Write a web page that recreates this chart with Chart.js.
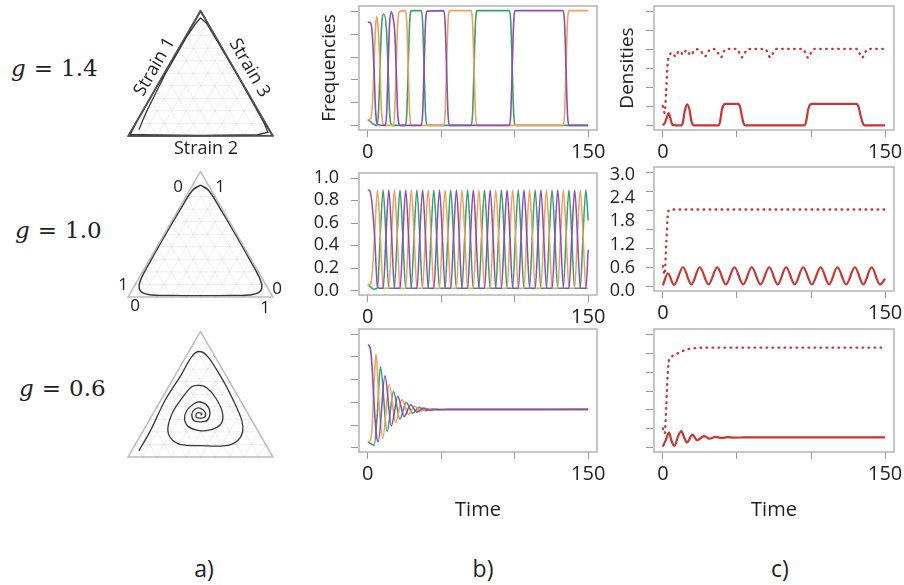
<!DOCTYPE html>
<html>
<head>
<meta charset="utf-8">
<script src="https://cdn.jsdelivr.net/npm/chart.js@4.4.1/dist/chart.umd.min.js"></script>
<style>
  html, body { margin: 0; padding: 0; background: #fff; }
  #fig { position: relative; width: 904px; height: 585px; overflow: hidden; font-family: 'Open Sans', sans-serif; color: #222; }
  canvas { position: absolute; }
  .txt { position: absolute; white-space: nowrap; transform: translate(-50%, -50%); }
  .g { font-family: 'DejaVu Serif', serif; font-size: 23px; transform: translate(0, -50%); }
  .g i { margin-right: 8px; }
  .g span { margin-right: 8px; }
</style>
</head>
<body>
<div id="fig">
  <canvas id="tern1"></canvas>
  <canvas id="tern2"></canvas>
  <canvas id="tern3"></canvas>
  <canvas id="b1"></canvas>
  <canvas id="b2"></canvas>
  <canvas id="b3"></canvas>
  <canvas id="c1"></canvas>
  <canvas id="c2"></canvas>
  <canvas id="c3"></canvas>

  <div class="txt g" style="left:11px;top:68px"><i>g</i><span>=</span>1.4</div>
  <div class="txt g" style="left:15px;top:230px"><i>g</i><span>=</span>1.0</div>
  <div class="txt g" style="left:19px;top:388px"><i>g</i><span>=</span>0.6</div>

  <div class="txt" style="left:153px;top:66px;font-size:18px;transform:translate(-50%,-50%) rotate(-60deg)">Strain 1</div>
  <div class="txt" style="left:251px;top:67px;font-size:18px;transform:translate(-50%,-50%) rotate(60deg)">Strain 3</div>
  <div class="txt" style="left:206px;top:147px;font-size:18px">Strain 2</div>

  <div class="txt" style="left:178px;top:185px;font-size:17px">0</div>
  <div class="txt" style="left:220px;top:185px;font-size:17px">1</div>
  <div class="txt" style="left:123px;top:283px;font-size:17px">1</div>
  <div class="txt" style="left:277px;top:287px;font-size:17px">0</div>
  <div class="txt" style="left:135px;top:304px;font-size:17px">0</div>
  <div class="txt" style="left:265px;top:306px;font-size:17px">1</div>

  <div class="txt" style="left:204px;top:568px;font-size:23px">a)</div>
  <div class="txt" style="left:483px;top:568px;font-size:23px">b)</div>
  <div class="txt" style="left:780px;top:568px;font-size:23px">c)</div>
</div>

<script>
// ---- axis ticks ----
const timeTicks = [0, 50, 100, 150];
const timeLabels = ['0', '', '', '150'];
const freqTicks = [0, 0.2, 0.4, 0.6, 0.8, 1.0];
const freqLabels = ['0.0', '0.2', '0.4', '0.6', '0.8', '1.0'];
const densTicks = [0, 0.5, 1, 1.5, 2, 2.5, 3];
const densLabelVals = [0, 0.6, 1.2, 1.8, 2.4, 3.0];
const densLabels = ['0.0', '0.6', '1.2', '1.8', '2.4', '3.0'];

// ---- g = 1.4 : frequencies [time, value] ----
const b1Purple = [[0,.9],[2,.89],[3,.8],[4.2,.5],[5.2,.15],[6,.03],[7,.005],[12,0],[12.8,.1],[13.8,.5],[14.8,.88],[16,.99],[17.3,.93],[18.3,.82],[19.3,.5],[20.3,.12],[21.3,.01],[22.3,0],[36.3,0],[37.3,.1],[38.3,.5],[39.3,.9],[40.5,.995],[51.6,1],[52.6,.9],[53.6,.5],[54.6,.1],[55.6,0],[96.3,0],[97.3,.1],[98.3,.5],[99.3,.9],[100.5,1],[132.9,1],[133.9,.9],[134.9,.5],[135.9,.1],[136.9,0],[150,0]];
const b1Orange = [[0,.05],[2,.06],[3.2,.2],[4.2,.5],[5.1,.82],[6.1,.95],[7.2,.82],[8.3,.5],[9.2,.15],[10.2,.02],[11,0],[17.3,0],[18.3,.12],[19.3,.5],[20.3,.88],[21.5,.99],[25.5,1],[26.5,.9],[27.5,.5],[28.5,.1],[29.5,0],[51.6,0],[52.6,.1],[53.6,.5],[54.6,.9],[55.8,1],[70.3,1],[71.3,.9],[72.3,.5],[73.3,.1],[74.3,0],[132.9,0],[133.9,.1],[134.9,.5],[135.9,.9],[137,1],[150,1]];
const b1Green = [[0,.05],[2,.03],[4,.01],[6.3,0],[7.3,.12],[8.3,.5],[9.3,.85],[10.9,.97],[12.6,.85],[13.8,.5],[14.8,.12],[15.8,.01],[16.8,0],[25.5,0],[26.5,.1],[27.5,.5],[28.5,.9],[29.7,1],[36.3,1],[37.3,.9],[38.3,.5],[39.3,.1],[40.3,0],[70.3,0],[71.3,.1],[72.3,.5],[73.3,.9],[74.5,1],[96.3,1],[97.3,.9],[98.3,.5],[99.3,.1],[100.3,0],[150,0]];

// ---- g = 1.4 : densities ----
const c1Solid = [[0,0],[1.5,.08],[3,.25],[3.9,.32],[5,.2],[6,.05],[7,.005],[12.5,0],[13.5,.08],[14.8,.38],[16.5,.55],[18,.4],[19.3,.1],[20.5,.01],[21.5,0],[37.5,0],[38.5,.08],[39.8,.4],[41.3,.55],[42.5,.565],[50.5,.565],[52,.5],[53.3,.25],[54.5,.05],[55.5,0],[95.5,0],[96.7,.1],[98,.4],[99.5,.55],[101,.565],[130.5,.565],[132,.5],[133.5,.25],[135,.05],[136.5,0],[150,0]];
const c1Dotted = [[0,.5],[1.2,.33],[2.2,.9],[3.2,1.6],[4.5,1.82],[6,1.9],[7,1.88],[8.4,1.8],[10,1.9],[11.3,1.95],[13.6,1.85],[15.9,1.97],[18.8,1.83],[21,1.95],[22.7,1.99],[25.5,1.95],[28.3,1.8],[31,1.95],[33,2],[36,1.97],[39.2,1.78],[41.5,1.95],[43,2],[50,2],[53.3,1.78],[56.5,1.97],[58,2],[69,2],[72.5,1.78],[75.5,1.97],[77,2],[94.5,2],[98,1.77],[101,1.97],[102.5,2],[131,2],[134.4,1.77],[137.5,1.97],[139,2],[150,2]];

// ---- g = 1.0 : frequencies ----
const b2Purple = [[0,.89],[1.2,.885],[2.6,.8],[4.6,.49],[6.6,.03],[8,.02],
  [10.45,.02],[12.4,.49],[14.3,.89],[16.2,.49],[18.15,.02],
  [21.95,.02],[23.9,.49],[25.8,.89],[27.7,.49],[29.65,.02],
  [33.45,.02],[35.4,.49],[37.3,.89],[39.2,.49],[41.15,.02],
  [44.95,.02],[46.9,.49],[48.8,.89],[50.7,.49],[52.65,.02],
  [56.45,.02],[58.4,.49],[60.3,.89],[62.2,.49],[64.15,.02],
  [67.95,.02],[69.9,.49],[71.8,.89],[73.7,.49],[75.65,.02],
  [79.45,.02],[81.4,.49],[83.3,.89],[85.2,.49],[87.15,.02],
  [90.95,.02],[92.9,.49],[94.8,.89],[96.7,.49],[98.65,.02],
  [102.45,.02],[104.4,.49],[106.3,.89],[108.2,.49],[110.15,.02],
  [113.95,.02],[115.9,.49],[117.8,.89],[119.7,.49],[121.65,.02],
  [125.45,.02],[127.4,.49],[129.3,.89],[131.2,.49],[133.15,.02],
  [136.95,.02],[138.9,.49],[140.8,.89],[142.7,.49],[144.65,.02],
  [148.45,.02],[150,.36]];
const b2Orange = [[0,.045],[2,.06],[3.3,.2],[4.6,.49],[6.6,.89],[8.5,.49],[10.45,.02],
  [14.25,.02],[16.2,.49],[18.1,.89],[20,.49],[21.95,.02],
  [25.75,.02],[27.7,.49],[29.6,.89],[31.5,.49],[33.45,.02],
  [37.25,.02],[39.2,.49],[41.1,.89],[43,.49],[44.95,.02],
  [48.75,.02],[50.7,.49],[52.6,.89],[54.5,.49],[56.45,.02],
  [60.25,.02],[62.2,.49],[64.1,.89],[66,.49],[67.95,.02],
  [71.75,.02],[73.7,.49],[75.6,.89],[77.5,.49],[79.45,.02],
  [83.25,.02],[85.2,.49],[87.1,.89],[89,.49],[90.95,.02],
  [94.75,.02],[96.7,.49],[98.6,.89],[100.5,.49],[102.45,.02],
  [106.25,.02],[108.2,.49],[110.1,.89],[112,.49],[113.95,.02],
  [117.75,.02],[119.7,.49],[121.6,.89],[123.5,.49],[125.45,.02],
  [129.25,.02],[131.2,.49],[133.1,.89],[135,.49],[136.95,.02],
  [140.75,.02],[142.7,.49],[144.6,.89],[146.5,.49],[148.45,.02],[150,.02]];
const b2Green = [[0,.05],[2,.03],[4,.012],[6.55,.02],[8.5,.49],[10.4,.89],[12.3,.49],[14.25,.02],
  [18.05,.02],[20,.49],[21.9,.89],[23.8,.49],[25.75,.02],
  [29.55,.02],[31.5,.49],[33.4,.89],[35.3,.49],[37.25,.02],
  [41.05,.02],[43,.49],[44.9,.89],[46.8,.49],[48.75,.02],
  [52.55,.02],[54.5,.49],[56.4,.89],[58.3,.49],[60.25,.02],
  [64.05,.02],[66,.49],[67.9,.89],[69.8,.49],[71.75,.02],
  [75.55,.02],[77.5,.49],[79.4,.89],[81.3,.49],[83.25,.02],
  [87.05,.02],[89,.49],[90.9,.89],[92.8,.49],[94.75,.02],
  [98.55,.02],[100.5,.49],[102.4,.89],[104.3,.49],[106.25,.02],
  [110.05,.02],[112,.49],[113.9,.89],[115.8,.49],[117.75,.02],
  [121.55,.02],[123.5,.49],[125.4,.89],[127.3,.49],[129.25,.02],
  [133.05,.02],[135,.49],[136.9,.89],[138.8,.49],[140.75,.02],
  [144.55,.02],[146.5,.49],[148.4,.89],[150,.62]];

// ---- g = 1.0 : densities ----
const c2Solid = [[0,.03],[3.4,.34],[7.5,.04],[13.6,.5],[19.2,.05],[24.9,.5],[30.8,.05],[36.7,.5],[42.5,.05],[48.3,.5],[54.2,.05],[60,.5],[65.9,.05],[71.8,.5],[77.5,.05],[83.2,.5],[89,.05],[94.7,.5],[100.6,.05],[106.5,.5],[112.2,.05],[117.8,.5],[123.7,.05],[129.6,.5],[135.3,.05],[140.9,.5],[146.5,.05],[150,.2]];
const c2Dotted = [[0,.53],[1.1,.31],[2.3,1.14],[3.4,1.89],[4.5,2],[6,2.01],[150,2.01]];

// ---- g = 0.6 : frequencies ----
const b3Purple = [[0,.9],[1.2,.89],[2.5,.78],[4,.45],[5.5,.15],[7.1,.05],[11.7,.63],[16,.19],[20.4,.45],[24.7,.27],[29.1,.375],[33.4,.31],[37.8,.346],[42.1,.326],[46.5,.336],[50.8,.331],[56,.334],[150,.334]];
const b3Orange = [[0,.05],[1.5,.06],[2.8,.15],[4.2,.55],[5.6,.82],[7.8,.35],[10.1,.08],[14.6,.55],[18.9,.22],[23.3,.42],[27.6,.29],[32,.362],[36.3,.318],[40.7,.341],[45,.329],[49.4,.335],[54,.333],[150,.334]];
const b3Green = [[0,.05],[2,.035],[4.3,.02],[6.5,.3],[8.6,.71],[13.1,.14],[17.5,.49],[21.8,.25],[26.2,.395],[30.5,.3],[34.9,.352],[39.2,.323],[43.6,.338],[48,.33],[52.3,.335],[57,.333],[150,.334]];

// ---- g = 0.6 : densities ----
const c3Solid = [[0,.02],[2,.2],[4.1,.39],[6,.15],[7.9,.04],[10.3,.3],[12.5,.43],[14.5,.25],[16.3,.13],[19.9,.34],[23.1,.19],[27.9,.3],[31.5,.23],[35.5,.28],[39.5,.25],[43.5,.27],[48,.26],[55,.265],[150,.265]];
const c3Dotted = [[0,.5],[1.2,.37],[2.3,1.1],[3.2,1.9],[4.1,2.3],[5,2.36],[6.8,2.42],[11.3,2.5],[15.9,2.58],[22.7,2.62],[30,2.63],[150,2.63]];

// ---- simplex trajectories [strain at top, bottom-left, bottom-right] ----
const tern14 = [[.05,.9,.05],[.12,.84,.04],[.2,.77,.03],[.35,.63,.02],[.5,.49,.01],[.65,.34,.01],[.8,.19,.01],[.9,.08,.02],[.94,.03,.03],[.9,.01,.09],[.7,.006,.294],[.5,.005,.495],[.3,.006,.694],[.1,.01,.89],[.03,.02,.95],[.01,.1,.89],[.005,.5,.495],[.01,.9,.09],[.01,.98,.01],[.1,.895,.005],[.5,.497,.003],[.9,.097,.003],[.99,.005,.005],[.9,.002,.098],[.5,.001,.499],[.1,.002,.898],[.005,.005,.99],[0,.5,.5],[0,.995,.005],[.5,.5,0],[.995,0,.005],[.5,0,.5],[.005,0,.995],[0,.5,.5],[0,1,0]];
const tern10 = [[.89,.055,.055],[.85,.02,.13],[.7,.012,.288],[.5,.01,.49],[.3,.012,.688],[.13,.02,.85],[.055,.055,.89],[.02,.13,.85],[.012,.288,.7],[.01,.49,.5],[.012,.688,.3],[.02,.85,.13],[.055,.89,.055],[.13,.85,.02],[.288,.7,.012],[.49,.5,.01],[.688,.3,.012],[.85,.13,.02],[.89,.055,.055]];
const tern06 = [[.05,.9,.05],[.21,.74,.05],[.45,.52,.03],[.65,.31,.04],[.8,.16,.04],[.84,.09,.07],[.8,.05,.15],[.61,.04,.35],[.43,.05,.52],[.29,.07,.64],[.2,.11,.69],[.13,.18,.69],[.09,.28,.63],[.09,.46,.45],[.1,.59,.31],[.15,.63,.22],[.23,.61,.16],[.36,.51,.13],[.48,.38,.14],[.56,.28,.16],[.57,.22,.21],[.55,.18,.27],[.47,.16,.37],[.36,.17,.47],[.27,.22,.51],[.22,.31,.47],[.21,.4,.39],[.24,.46,.3],[.3,.46,.24],[.37,.41,.22],[.42,.34,.24],[.44,.29,.27],[.41,.25,.34],[.35,.26,.39],[.29,.31,.4],[.28,.36,.36],[.29,.4,.31],[.34,.39,.27],[.38,.35,.27],[.39,.31,.3],[.36,.29,.35],[.32,.31,.37],[.31,.35,.34],[.32,.37,.31],[.35,.35,.3],[.35,.32,.33],[.34,.32,.34],[.333,.333,.334]];
const gridLevels = [.1, .2, .3, .4, .5, .6, .7, .8, .9];

const PURPLE = '#8B4FB3';
const ORANGE = '#EDA05C';
const GREEN = '#3B9E6E';
const RED = '#CC3333';

Chart.defaults.font.family = "'Open Sans', sans-serif";
Chart.defaults.color = '#222';

// grey frame round the plot area, plus short y tick marks left of it
const framePlugin = {
  id: 'frame',
  afterDatasetsDraw(chart, args, opts) {
    const a = chart.chartArea;
    const ys = chart.scales.y;
    const ctx = chart.ctx;
    ctx.save();
    ctx.strokeStyle = '#b4b4b4';
    ctx.lineWidth = 1.5;
    ctx.strokeRect(a.left, a.top, a.right - a.left, a.bottom - a.top);
    ctx.strokeStyle = '#999';
    ctx.lineWidth = 1;
    (opts.ticks || []).forEach(v => {
      const py = Math.round(ys.getPixelForValue(v)) + 0.5;
      ctx.beginPath();
      ctx.moveTo(a.left - 8, py);
      ctx.lineTo(a.left - 1, py);
      ctx.stroke();
    });
    ctx.restore();
  }
};

const pts = arr => arr.map(p => ({ x: p[0], y: p[1] }));

const line = (arr, color, width, dotted) => ({
  data: pts(arr),
  borderColor: color,
  borderWidth: width,
  pointRadius: 0,
  cubicInterpolationMode: 'monotone',
  borderDash: dotted ? [0.5, 5.5] : [],
  borderCapStyle: dotted ? 'round' : 'butt'
});

const labelOf = (vals, labels) => v => {
  const i = vals.indexOf(v);
  return i < 0 ? '' : labels[i];
};

function timeChart(id, o) {
  const cv = document.getElementById(id);
  cv.style.left = o.x + 'px';
  cv.style.top = o.y + 'px';
  cv.width = o.w;
  cv.height = o.h;

  const yTickVals = o.dens ? densTicks : freqTicks;
  const scales = {
    x: {
      type: 'linear', min: -6, max: 156,
      afterBuildTicks: s => { s.ticks = timeTicks.map(v => ({ value: v })); },
      afterFit: s => { s.height = o.xh; s.paddingLeft = 0; s.paddingRight = 0; },
      grid: { drawOnChartArea: false, tickLength: 7, color: '#999' },
      border: { display: false },
      ticks: { autoSkip: false, maxRotation: 0, padding: 3, font: { size: 20 },
        callback: labelOf(timeTicks, timeLabels) },
      title: { display: !!o.xTitle, text: o.xTitle, font: { size: 20 } }
    },
    y: {
      display: !o.densLabels,
      min: o.dens ? -0.12 : -0.04, max: o.dens ? 3.12 : 1.04,
      afterBuildTicks: s => { s.ticks = yTickVals.map(v => ({ value: v })); },
      afterFit: s => { s.width = o.densLabels ? 0 : o.yw; s.paddingTop = 0; s.paddingBottom = 0; },
      grid: { display: false },
      border: { display: false },
      ticks: { display: !!o.yLabels, autoSkip: false, padding: 12, font: { size: 18 },
        callback: labelOf(freqTicks, freqLabels) },
      title: { display: !!o.yTitle, text: o.yTitle, font: { size: 19 }, padding: { top: o.titlePad || 4, bottom: 0 } }
    }
  };
  if (o.densLabels) {
    // density labels sit on their own axis, slightly off the tick marks
    scales.yl = {
      position: 'left', min: 0, max: 3.2,
      afterBuildTicks: s => { s.ticks = densLabelVals.map(v => ({ value: v })); },
      afterFit: s => { s.width = o.yw; s.paddingTop = 0; s.paddingBottom = 0; },
      grid: { display: false },
      border: { display: false },
      ticks: { autoSkip: false, padding: 11, font: { size: 18 }, callback: labelOf(densLabelVals, densLabels) }
    };
  }

  new Chart(cv, {
    type: 'line',
    data: { datasets: o.datasets },
    options: {
      responsive: false,
      animation: false,
      layout: { padding: { left: 0, right: o.w - o.yw - o.pw, top: o.pt, bottom: 0 } },
      plugins: { legend: { display: false }, tooltip: { enabled: false }, frame: { ticks: yTickVals } },
      scales: scales
    },
    plugins: [framePlugin]
  });
}

// b column: plot box x 359..597 ; c column: plot box x 654..894
timeChart('b1', { x: 300, y: 0, w: 320, h: 170, yw: 59, pw: 238, pt: 6, xh: 40, yTitle: 'Frequencies', titlePad: 18,
  datasets: [line(b1Purple, PURPLE, 1.6), line(b1Orange, ORANGE, 1.6), line(b1Green, GREEN, 1.6)] });
timeChart('b2', { x: 300, y: 167, w: 320, h: 168, yw: 59, pw: 238, pt: 6, xh: 40, yLabels: true,
  datasets: [line(b2Purple, PURPLE, 1.5), line(b2Orange, ORANGE, 1.5), line(b2Green, GREEN, 1.5)] });
timeChart('b3', { x: 300, y: 323, w: 320, h: 203, yw: 59, pw: 238, pt: 6, xh: 74, xTitle: 'Time',
  datasets: [line(b3Purple, PURPLE, 1.6), line(b3Orange, ORANGE, 1.6), line(b3Green, GREEN, 1.6)] });

timeChart('c1', { x: 604, y: 0, w: 300, h: 170, yw: 50, pw: 240, pt: 6, xh: 40, dens: true, yTitle: 'Densities', titlePad: 12,
  datasets: [line(c1Solid, RED, 2.2), line(c1Dotted, RED, 2.4, true)] });
timeChart('c2', { x: 604, y: 161, w: 300, h: 170, yw: 50, pw: 240, pt: 6, xh: 40, dens: true, densLabels: true,
  datasets: [line(c2Solid, RED, 2.2), line(c2Dotted, RED, 2.4, true)] });
timeChart('c3', { x: 604, y: 323, w: 300, h: 203, yw: 50, pw: 240, pt: 6, xh: 74, dens: true, xTitle: 'Time',
  datasets: [line(c3Solid, RED, 2.2), line(c3Dotted, RED, 2.4, true)] });

// ---- simplex panels ----
const H3 = Math.sqrt(3) / 2;
const toXY = t => {
  const s = t[0] + t[1] + t[2];
  const a = t[0] / s, c = t[2] / s;
  return { x: c + a / 2, y: a * H3 };
};

function ternChart(id, left, baseY, traj, edgeColor, trajWidth, tension) {
  const S = 145, P = 10, W = 165, H = 146;
  const cv = document.getElementById(id);
  cv.style.left = (left - P) + 'px';
  cv.style.top = (baseY - (H - P)) + 'px';
  cv.width = W;
  cv.height = H;

  const ds = [];
  gridLevels.forEach(k => {
    [[[k, 1 - k, 0], [k, 0, 1 - k]], [[1 - k, k, 0], [0, k, 1 - k]], [[1 - k, 0, k], [0, 1 - k, k]]].forEach(seg => {
      ds.push({ data: seg.map(toXY), showLine: true, borderColor: 'rgba(0,0,0,0.07)', borderWidth: 1, pointRadius: 0 });
    });
  });
  ds.push({ data: [[1, 0, 0], [0, 1, 0], [0, 0, 1], [1, 0, 0]].map(toXY), showLine: true,
    borderColor: edgeColor, borderWidth: 1.5, pointRadius: 0 });
  ds.push({ data: traj.map(toXY), showLine: true, borderColor: '#3a3a3a', borderWidth: trajWidth,
    pointRadius: 0, tension: tension });

  new Chart(cv, {
    type: 'scatter',
    data: { datasets: ds },
    options: {
      responsive: false,
      animation: false,
      layout: { padding: 0 },
      plugins: { legend: { display: false }, tooltip: { enabled: false } },
      scales: {
        x: { display: false, min: -P / S, max: (W - P) / S },
        y: { display: false, min: -P / S, max: (H - P) / S }
      }
    }
  });
}

ternChart('tern1', 128, 136, tern14, '#555', 1.3, 0);
ternChart('tern2', 128, 297, tern10, '#bdbdbd', 1.5, 0.35);
ternChart('tern3', 128, 457, tern06, '#bdbdbd', 1.3, 0.35);
</script>
</body>
</html>
